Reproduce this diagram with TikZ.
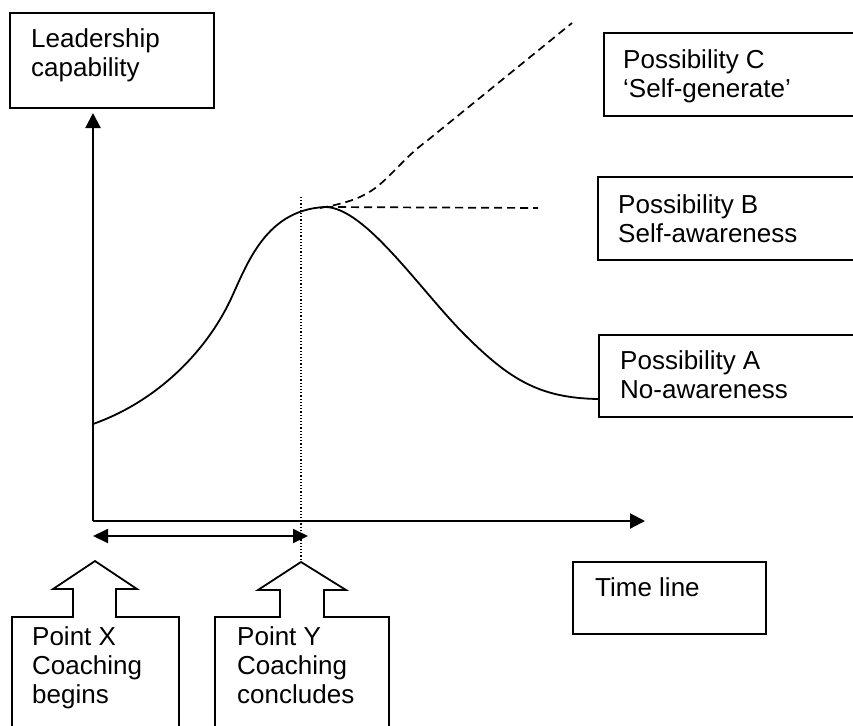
\documentclass[tikz,border=0pt]{standalone}
\usepackage{fontspec}
\setmainfont{Liberation Sans}
\usetikzlibrary{positioning, arrows.meta}

\begin{document}
\begin{tikzpicture}[
                x=1pt, y=-1pt,
                box/.style={draw, line width=1.8pt, inner sep=0pt, anchor=north west},
                lbl/.style={font=\fontsize{26}{29}\selectfont, align=left, inner sep=0pt, anchor=north west},
                axis/.style={-{Triangle[length=15pt, width=15pt]}, line width=2.2pt},
                span/.style={{Triangle[length=15pt, width=14pt]}-{Triangle[length=15pt, width=14pt]}, line width=1.8pt},
                curve/.style={line width=1.8pt},
                guess/.style={line width=1.7pt, dash pattern=on 8pt off 5pt},
                endline/.style={line width=1.1pt, dash pattern=on 1.2pt off 2pt},
                callout/.style={line width=1.8pt, line join=miter}
            ]
                \useasboundingbox (0,0) rectangle (853,725);
                \clip (0,0) rectangle (853,725);

                % axes
                \coordinate (o) at (93,521);
                \coordinate (ytop) at (93,113);
                \coordinate (xend) at (645,521);
                \draw[axis] (o) -- (ytop);
                \draw[axis] (o) -- (xend);

                % coaching period
                \coordinate (ps) at (93,536);
                \coordinate (pe) at (308,536);
                \draw[span] (ps) -- (pe);

                % boxes with labels
                \node[box, minimum width=204pt, minimum height=95pt] (leadbox) at (9,12) {};
                \node[lbl] (lead) at (31,28.5) {Leadership\\capability};

                \node[box, minimum width=270pt, minimum height=83pt] (cbox) at (603,32) {};
                \node[lbl] (posc) at (623,49.5) {Possibility C\\‘Self-generate’};

                \node[box, minimum width=270pt, minimum height=83pt] (bbox) at (597,176) {};
                \node[lbl] (posb) at (618,194.5) {Possibility B\\Self-awareness};

                \node[box, minimum width=270pt, minimum height=82pt] (abox) at (598,334) {};
                \node[lbl] (posa) at (620,350.5) {Possibility A\\No-awareness};

                \node[box, minimum width=193pt, minimum height=72pt] (tbox) at (572,561) {};
                \node[lbl] (time) at (595,577.5) {Time line};

                % callouts under the time line
                \coordinate (tipx) at (95,561);
                \coordinate (tipy) at (301,562);
                \draw[callout] (12,735) -- (12,617) -- (73,617) -- (73,589) -- (53,589) -- (tipx)
                    -- (137,589) -- (116,589) -- (116,617) -- (179,617) -- (179,735);
                \draw[callout] (215,735) -- (215,617) -- (280,617) -- (280,590) -- (258,590) -- (tipy)
                    -- (346,590) -- (324,590) -- (324,617) -- (389,617) -- (389,735);
                \node[lbl] (ptx) at (32,626.5) {Point X\\Coaching\\begins};
                \node[lbl] (pty) at (237,626.5) {Point Y\\Coaching\\concludes};

                % end of coaching
                \coordinate (ytopmark) at (301,197);
                \draw[endline] (ytopmark) -- (tipy);

                % capability curve, ends at possibility A
                \coordinate (start) at (93,424);
                \coordinate (peak) at (325,207);
                \coordinate (fade) at (598,399);
                \draw[curve] (start) .. controls (150,404) and (200,360) .. (228,305)
                    .. controls (245,271) and (262,210) .. (peak)
                    .. controls (365,207) and (420,290) .. (465,335)
                    .. controls (510,380) and (540,398) .. (fade);

                % possibility B
                \coordinate (bend) at (538,208);
                \draw[guess] (peak) -- (bend);

                % possibility C
                \coordinate (rise) at (572,23);
                \draw[guess] (320,208) .. controls (365,200) and (375,190) .. (395,170)
                    .. controls (405,160) and (412,152) .. (428,140) -- (rise);

            \end{tikzpicture}
\end{document}
